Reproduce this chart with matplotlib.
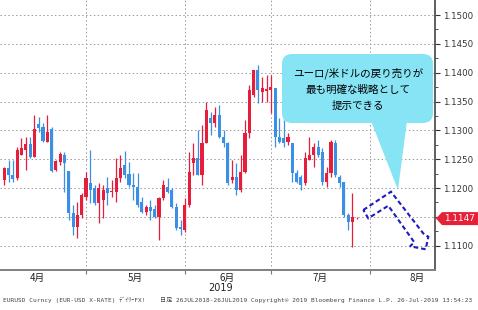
import numpy as np
import matplotlib
matplotlib.use("Agg")
import matplotlib.pyplot as plt
import matplotlib.transforms as mtransforms
from matplotlib.patches import FancyBboxPatch, Polygon
from matplotlib.ticker import FuncFormatter

# EUR/USD daily candles, early April -> 26 July 2019
opens = [1.1214, 1.1235, 1.1223, 1.1217, 1.1257, 1.1266, 1.1276, 1.1254, 1.1311, 1.1306,
         1.1280, 1.1302, 1.1231, 1.1245, 1.1257, 1.1230, 1.1157, 1.1132, 1.1153, 1.1184,
         1.1209, 1.1200, 1.1174, 1.1179, 1.1200, 1.1193, 1.1193, 1.1217, 1.1240, 1.1224,
         1.1205, 1.1202, 1.1176, 1.1158, 1.1167, 1.1164, 1.1150, 1.1183, 1.1202, 1.1197,
         1.1167, 1.1132, 1.1127, 1.1171, 1.1243, 1.1252, 1.1223, 1.1278, 1.1321, 1.1313,
         1.1327, 1.1288, 1.1278, 1.1214, 1.1219, 1.1197, 1.1228, 1.1295, 1.1361, 1.1405,
         1.1367, 1.1368, 1.1370, 1.1373, 1.1288, 1.1287, 1.1280, 1.1278, 1.1226, 1.1219,
         1.1209, 1.1249, 1.1257, 1.1271, 1.1262, 1.1210, 1.1226, 1.1278, 1.1219, 1.1210,
         1.1153, 1.1141, 1.1146]
highs = [1.1236, 1.1249, 1.1249, 1.1271, 1.1287, 1.1288, 1.1288, 1.1327, 1.1323, 1.1313,
         1.1327, 1.1306, 1.1249, 1.1262, 1.1262, 1.1230, 1.1171, 1.1176, 1.1191, 1.1228,
         1.1266, 1.1205, 1.1209, 1.1205, 1.1219, 1.1214, 1.1252, 1.1257, 1.1264, 1.1245,
         1.1226, 1.1226, 1.1184, 1.1171, 1.1179, 1.1171, 1.1184, 1.1214, 1.1217, 1.1200,
         1.1174, 1.1145, 1.1183, 1.1262, 1.1278, 1.1301, 1.1309, 1.1349, 1.1332, 1.1341,
         1.1344, 1.1301, 1.1280, 1.1249, 1.1243, 1.1257, 1.1318, 1.1379, 1.1405, 1.1413,
         1.1393, 1.1396, 1.1396, 1.1373, 1.1321, 1.1318, 1.1295, 1.1278, 1.1231, 1.1223,
         1.1262, 1.1288, 1.1278, 1.1283, 1.1269, 1.1236, 1.1283, 1.1283, 1.1223, 1.1210,
         1.1157, 1.1191, 1.1150]
lows = [1.1205, 1.1210, 1.1210, 1.1214, 1.1257, 1.1231, 1.1252, 1.1254, 1.1297, 1.1280,
        1.1280, 1.1228, 1.1230, 1.1240, 1.1193, 1.1145, 1.1119, 1.1113, 1.1148, 1.1179,
        1.1174, 1.1171, 1.1139, 1.1148, 1.1171, 1.1184, 1.1176, 1.1210, 1.1217, 1.1202,
        1.1179, 1.1167, 1.1157, 1.1153, 1.1145, 1.1148, 1.1110, 1.1179, 1.1191, 1.1165,
        1.1127, 1.1119, 1.1124, 1.1167, 1.1223, 1.1223, 1.1205, 1.1278, 1.1292, 1.1306,
        1.1287, 1.1271, 1.1205, 1.1209, 1.1188, 1.1193, 1.1226, 1.1287, 1.1358, 1.1347,
        1.1349, 1.1349, 1.1330, 1.1271, 1.1278, 1.1271, 1.1275, 1.1210, 1.1209, 1.1197,
        1.1205, 1.1249, 1.1236, 1.1254, 1.1205, 1.1202, 1.1219, 1.1219, 1.1202, 1.1150,
        1.1127, 1.1098, 1.1146]
closes = [1.1235, 1.1223, 1.1216, 1.1266, 1.1269, 1.1276, 1.1254, 1.1302, 1.1304, 1.1282,
          1.1297, 1.1230, 1.1247, 1.1259, 1.1243, 1.1157, 1.1132, 1.1153, 1.1188, 1.1217,
          1.1197, 1.1174, 1.1200, 1.1197, 1.1191, 1.1195, 1.1217, 1.1235, 1.1223, 1.1205,
          1.1202, 1.1171, 1.1158, 1.1167, 1.1160, 1.1150, 1.1183, 1.1205, 1.1193, 1.1167,
          1.1131, 1.1129, 1.1171, 1.1228, 1.1252, 1.1223, 1.1278, 1.1335, 1.1313, 1.1327,
          1.1288, 1.1278, 1.1209, 1.1219, 1.1197, 1.1228, 1.1295, 1.1370, 1.1405, 1.1370,
          1.1373, 1.1372, 1.1375, 1.1288, 1.1280, 1.1278, 1.1288, 1.1226, 1.1210, 1.1205,
          1.1252, 1.1257, 1.1271, 1.1257, 1.1210, 1.1226, 1.1280, 1.1223, 1.1209, 1.1153,
          1.1141, 1.1150, 1.1147]

month_labels = ["4月", "5月", "6月", "7月", "8月"]
month_pos = [7.6, 30.4, 51.8, 73.4, 96.0]
month_starts = [19, 42, 62, 85]
price_ticks = [1.1100, 1.1150, 1.1200, 1.1250, 1.1300, 1.1350, 1.1400, 1.1450, 1.1500]

callout_lines = ["ユーロ/米ドルの戻り売りが", "最も明確な戦略として", "提示できる"]
footer_left = "EURUSD Curncy (EUR-USD X-RATE) ﾃﾞｲﾘｰFX!"
footer_right = "日足 26JUL2018-26JUL2019 Copyright® 2019 Bloomberg Finance L.P. 26-Jul-2019 13:54:23"

RED = "#e61e3c"
BLUE = "#3b8fe4"
JP = ["Noto Sans CJK JP", "DejaVu Sans"]

fig = plt.figure(figsize=(4.78, 3.10), dpi=100)
# place things in image pixel coords (origin top-left)
px = mtransforms.Affine2D().scale(1 / 478, -1 / 310).translate(0, 1) + fig.transFigure

ax = fig.add_axes([0, 40 / 310, 435 / 478, 270 / 310])

o = np.array(opens)
h = np.array(highs)
l = np.array(lows)
c = np.array(closes)
x = np.arange(len(o))
cols = np.where(c >= o, RED, BLUE)

ax.vlines(x, l, h, colors=cols, lw=0.9, zorder=3)
ax.bar(x, np.maximum(np.abs(c - o), 0.00012), bottom=np.minimum(o, c),
       width=0.72, color=cols, linewidth=0, zorder=4)

ax.set_xlim(-1, 100.2)
ax.set_ylim(1.10579, 1.15261)

# right price axis (1.1150 label sits under the last-price tag)
last = c[-1]
ax.yaxis.tick_right()
ax.set_yticks(price_ticks)
ax.set_yticks(np.array(price_ticks[:-1]) + 0.0025, minor=True)
ax.yaxis.set_major_formatter(FuncFormatter(lambda v, p: "" if abs(v - last) < 0.0008 else "%.4f" % v))
ax.tick_params(axis="y", which="major", length=3.5, width=0.8, color="#333333",
               pad=2, labelsize=6.2, labelcolor="#333333")
ax.tick_params(axis="y", which="minor", length=2, width=0.6, color="#333333")

# month axis
ax.set_xticks(month_starts)
ax.set_xticklabels([])
ax.tick_params(axis="x", which="major", length=3, width=0.8, color="#777777")
ax.set_xticks(month_pos, minor=True)
ax.set_xticklabels(month_labels, minor=True)
ax.tick_params(axis="x", which="minor", length=0, pad=2, labelsize=7, labelcolor="#222222")
for t in ax.get_xticklabels(minor=True):
    t.set_fontfamily(JP)

ax.grid(which="major", ls=(0, (1.5, 2.5)), color="#999999", lw=0.7)
for s in ["left", "top"]:
    ax.spines[s].set_visible(False)
ax.spines["right"].set_color("#444444")
ax.spines["right"].set_linewidth(1.2)
ax.spines["bottom"].set_color("#808080")
ax.spines["bottom"].set_linewidth(1.4)

yr = mtransforms.blended_transform_factory(ax.transData, px)
ax.text(50.2, 288, "2019", transform=yr, ha="center", va="center", fontsize=7, color="#222222")

# callout bubble
fig.patches.append(FancyBboxPatch((282, 54), 151, 69, boxstyle="round,pad=0,rounding_size=10",
                                  transform=px, facecolor="#86e4f4", edgecolor="none", zorder=5))
fig.patches.append(Polygon([(371, 121), (407, 121), (398, 190)], closed=True,
                           transform=px, facecolor="#86e4f4", edgecolor="none", zorder=5))
for i, line in enumerate(callout_lines):
    fig.text(358, 73 + i * 16.5, line, transform=px, ha="center", va="center",
             fontsize=7.6, family=JP, color="black", zorder=6)

# dashed forecast arrow
arrow = [(363.3, 210), (391, 191.7), (424, 234.3), (428.3, 236.7), (425.7, 249.3),
         (410, 246.3), (414.3, 242.3), (388.3, 205.7), (368.3, 218.3)]
fig.patches.append(Polygon(arrow, closed=True, transform=px, fill=False,
                           edgecolor="#1c1cc0", lw=1.5, ls=(0, (2.2, 1.4)), zorder=6))

# last price tag
ly = 245.7 - (last - 1.1100) / 0.0001734
fig.patches.append(Polygon([(436, ly), (442, ly - 6.5), (478, ly - 6.5), (478, ly + 6.5), (442, ly + 6.5)],
                           closed=True, transform=px, facecolor="#e5213a", edgecolor="none", zorder=7))
fig.text(459.5, ly, "%.4f" % last, transform=px, ha="center", va="center",
         fontsize=6.4, color="white", zorder=8)

# footer
fig.text(3, 300, footer_left, transform=px, ha="left", va="center", fontsize=4.4,
         family=["DejaVu Sans Mono", "Noto Sans CJK JP"], color="#444444")
fig.text(160, 300, footer_right, transform=px, ha="left", va="center", fontsize=4.4,
         family=["DejaVu Sans Mono", "Noto Sans CJK JP"], color="#444444")

fig.savefig("out.png", dpi=100)
